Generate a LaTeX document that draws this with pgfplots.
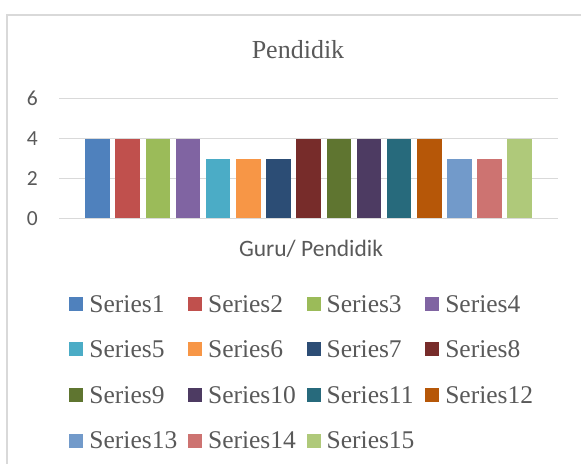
\documentclass[border=0pt]{standalone}
\usepackage{pgfplots}
\pgfplotsset{compat=1.18}
\usepackage{fontspec}
\setmainfont{Liberation Serif}
\newfontfamily\carlito{Carlito}
\definecolor{txt}{HTML}{595959}
\definecolor{grd}{HTML}{D9D9D9}
\definecolor{s1}{HTML}{4F81BD}
\definecolor{s2}{HTML}{C0504D}
\definecolor{s3}{HTML}{9BBB59}
\definecolor{s4}{HTML}{8064A2}
\definecolor{s5}{HTML}{4BACC6}
\definecolor{s6}{HTML}{F79646}
\definecolor{s7}{HTML}{2C4D75}
\definecolor{s8}{HTML}{772C2A}
\definecolor{s9}{HTML}{5F7530}
\definecolor{s10}{HTML}{4D3B62}
\definecolor{s11}{HTML}{276A7C}
\definecolor{s12}{HTML}{B65708}
\definecolor{s13}{HTML}{729ACA}
\definecolor{s14}{HTML}{CD7371}
\definecolor{s15}{HTML}{AFC97A}
\pgfplotsset{bs/.style={fill=#1, draw=none, bar shift=0pt,
  legend image code/.code={\fill[#1] (0bp,-7bp) rectangle (14bp,7bp);}}}
\newcommand{\lent}[1]{\addlegendentry{\hspace{6bp}\makebox[98.6bp][l]{#1}}}
\begin{document}
\begin{tikzpicture}
\path[use as bounding box] (0,0) rectangle (581bp,464bp);
\draw[grd, line width=1.5bp] (7bp,-2bp) -- (7bp,449bp) -- (585bp,449bp);
\node[anchor=base, text=txt, font=\fontsize{26bp}{26bp}\selectfont, inner sep=0pt] at (298bp,405bp) {Pendidik};
\node[anchor=base, text=txt, font=\carlito\fontsize{23.5bp}{23.5bp}\selectfont, inner sep=0pt] at (311bp,207bp) {Guru/ Pendidik};
\begin{axis}[
  at={(59bp,245.7bp)}, anchor=south west,
  scale only axis, width=499bp, height=119.6bp,
  xmin=-0.28, xmax=16.27, ymin=0, ymax=6,
  ybar, bar width=24.5bp,
  ytick={0,2,4,6}, xtick=\empty,
  axis line style={draw=none},
  major tick length=0pt,
  ymajorgrids, grid style={grd, line width=1.3bp},
  /pgf/number format/assume math mode=true,
  yticklabel style={font=\carlito\fontsize{21.5bp}{21.5bp}\selectfont, text=txt, inner sep=0pt, anchor=east, xshift=-21bp},
  legend columns=4,
  legend style={at={(0.0206,-0.616)}, anchor=north west, draw=none, fill=none, inner sep=0pt,
    font=\fontsize{25.5bp}{25.5bp}\selectfont, text=txt,
    nodes={inner sep=0pt, text height=20bp, text depth=3.2bp},
    column sep=0pt, row sep=22.4bp},
]
\addplot[bs=s1] coordinates {(1,4)};\lent{Series1}
\addplot[bs=s2] coordinates {(2,4)};\lent{Series2}
\addplot[bs=s3] coordinates {(3,4)};\lent{Series3}
\addplot[bs=s4] coordinates {(4,4)};\lent{Series4}
\addplot[bs=s5] coordinates {(5,3)};\lent{Series5}
\addplot[bs=s6] coordinates {(6,3)};\lent{Series6}
\addplot[bs=s7] coordinates {(7,3)};\lent{Series7}
\addplot[bs=s8] coordinates {(8,4)};\lent{Series8}
\addplot[bs=s9] coordinates {(9,4)};\lent{Series9}
\addplot[bs=s10] coordinates {(10,4)};\lent{Series10}
\addplot[bs=s11] coordinates {(11,4)};\lent{Series11}
\addplot[bs=s12] coordinates {(12,4)};\lent{Series12}
\addplot[bs=s13] coordinates {(13,3)};\lent{Series13}
\addplot[bs=s14] coordinates {(14,3)};\lent{Series14}
\addplot[bs=s15] coordinates {(15,4)};\lent{Series15}
\end{axis}
\end{tikzpicture}
\end{document}
